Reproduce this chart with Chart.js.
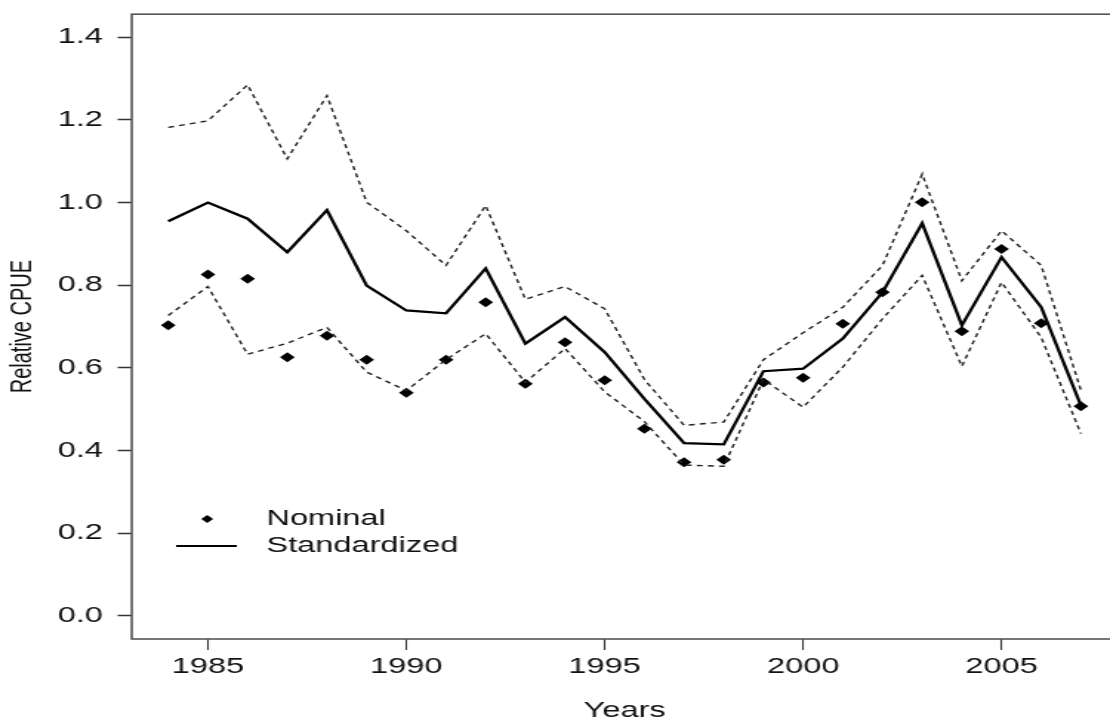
<!DOCTYPE html>
<html>
<head>
<meta charset="utf-8">
<script src="https://cdn.jsdelivr.net/npm/chart.js@4.4.1/dist/chart.umd.min.js"></script>
<style>
  html, body { margin: 0; padding: 0; background: #fff; overflow: hidden; width: 1110px; height: 717px; }
  /* la figura original está estirada en horizontal: se dibuja estrecha y se escala */
  #wrap { width: 760px; height: 733px; position: relative; top: -9px; transform: scaleX(1.48); transform-origin: 0 0; }
</style>
</head>
<body>
<div id="wrap"><canvas id="cpueChart"></canvas></div>
<script>
// Datos
const years = [1984, 1985, 1986, 1987, 1988, 1989, 1990, 1991, 1992, 1993, 1994, 1995,
               1996, 1997, 1998, 1999, 2000, 2001, 2002, 2003, 2004, 2005, 2006, 2007];
const standardized = [0.955, 1.000, 0.961, 0.880, 0.982, 0.799, 0.739, 0.732, 0.841, 0.659, 0.723, 0.638,
                      0.525, 0.418, 0.415, 0.592, 0.598, 0.671, 0.783, 0.950, 0.703, 0.868, 0.747, 0.509];
const nominal = [0.703, 0.826, 0.816, 0.626, 0.678, 0.620, 0.540, 0.620, 0.759, 0.562, 0.662, 0.570,
                 0.453, 0.372, 0.378, 0.565, 0.576, 0.707, 0.783, 1.001, 0.689, 0.888, 0.708, 0.507];
const upperCI = [1.182, 1.198, 1.285, 1.106, 1.259, 1.001, 0.932, 0.848, 0.993, 0.766, 0.797, 0.743,
                 0.572, 0.461, 0.469, 0.620, 0.685, 0.747, 0.848, 1.069, 0.811, 0.932, 0.848, 0.546];
const lowerCI = [0.727, 0.797, 0.633, 0.660, 0.698, 0.590, 0.545, 0.620, 0.683, 0.565, 0.647, 0.542,
                 0.470, 0.365, 0.362, 0.572, 0.505, 0.602, 0.719, 0.824, 0.604, 0.807, 0.674, 0.441];
const xTicks = [1985, 1990, 1995, 2000, 2005];
const yTicks = [0.0, 0.2, 0.4, 0.6, 0.8, 1.0, 1.2, 1.4];
const legendLabels = ['Nominal', 'Standardized'];

const toPoints = arr => arr.map((v, i) => ({ x: years[i], y: v }));
const FONT = "'Liberation Sans', Arial, Helvetica, sans-serif";

// Caja alrededor del área del gráfico y leyenda estilo R
const boxAndLegend = {
    id: 'boxAndLegend',
    afterDraw(chart) {
        const { ctx, chartArea: a } = chart;
        ctx.save();
        ctx.strokeStyle = '#555';
        ctx.lineWidth = 1.6;
        ctx.strokeRect(a.left, a.top, a.right - a.left, a.bottom - a.top);

        const y1 = a.bottom - 120;
        const y2 = a.bottom - 93;
        // diamante
        ctx.fillStyle = '#000';
        ctx.beginPath();
        ctx.moveTo(a.left + 51, y1 - 4);
        ctx.lineTo(a.left + 55, y1);
        ctx.lineTo(a.left + 51, y1 + 4);
        ctx.lineTo(a.left + 47, y1);
        ctx.closePath();
        ctx.fill();
        // línea
        ctx.strokeStyle = '#000';
        ctx.lineWidth = 2;
        ctx.beginPath();
        ctx.moveTo(a.left + 30, y2);
        ctx.lineTo(a.left + 71, y2);
        ctx.stroke();

        ctx.font = '22px ' + FONT;
        ctx.fillStyle = '#111';
        ctx.textBaseline = 'middle';
        ctx.fillText(legendLabels[0], a.left + 91, y1);
        ctx.fillText(legendLabels[1], a.left + 91, y2);
        ctx.restore();
    }
};

const dashedStyle = {
    borderColor: '#222',
    borderWidth: 1.4,
    borderDash: [4, 3.5],
    pointRadius: 0,
    tension: 0,
    fill: false
};

new Chart(document.getElementById('cpueChart'), {
    type: 'line',
    data: {
        datasets: [
            Object.assign({ label: 'Upper', data: toPoints(upperCI) }, dashedStyle),
            Object.assign({ label: 'Lower', data: toPoints(lowerCI) }, dashedStyle),
            {
                label: 'Standardized',
                data: toPoints(standardized),
                borderColor: '#000',
                borderWidth: 2.3,
                pointRadius: 0,
                tension: 0,
                fill: false
            },
            {
                label: 'Nominal',
                data: toPoints(nominal),
                showLine: false,
                pointStyle: 'rectRot',
                pointRadius: 5,
                pointBackgroundColor: '#000',
                pointBorderColor: '#000',
                pointBorderWidth: 0
            }
        ]
    },
    options: {
        responsive: true,
        maintainAspectRatio: false,
        animation: false,
        layout: { padding: { top: 0, right: 4, left: 0, bottom: 0 } },
        plugins: {
            legend: { display: false },
            tooltip: { enabled: false }
        },
        scales: {
            x: {
                type: 'linear',
                min: 1983.08,
                max: 2007.92,
                afterBuildTicks: scale => { scale.ticks = xTicks.map(v => ({ value: v })); },
                afterFit: scale => { scale.height = 85; },
                border: { display: false },
                grid: { drawOnChartArea: false, drawTicks: true, tickLength: 11, tickWidth: 1.1, color: '#333' },
                ticks: {
                    color: '#111',
                    font: { size: 22, family: FONT },
                    padding: 4,
                    maxRotation: 0,
                    callback: v => String(v)
                },
                title: {
                    display: true,
                    text: 'Years',
                    color: '#111',
                    font: { size: 22, family: FONT },
                    padding: { top: 0, bottom: 0 }
                }
            },
            y: {
                min: -0.056,
                max: 1.456,
                afterBuildTicks: scale => { scale.ticks = yTicks.map(v => ({ value: v })); },
                afterFit: scale => { scale.width = 89; },
                border: { display: false },
                grid: { drawOnChartArea: false, drawTicks: true, tickLength: 9.5, tickWidth: 1.5, color: '#333' },
                ticks: {
                    color: '#111',
                    font: { size: 22, family: FONT },
                    padding: 10,
                    callback: v => v.toFixed(1)
                },
                title: {
                    display: true,
                    text: 'Relative CPUE',
                    color: '#111',
                    font: { size: 20, family: FONT },
                    padding: { top: 3, bottom: 0 }
                }
            }
        }
    },
    plugins: [boxAndLegend]
});
</script>
</body>
</html>
